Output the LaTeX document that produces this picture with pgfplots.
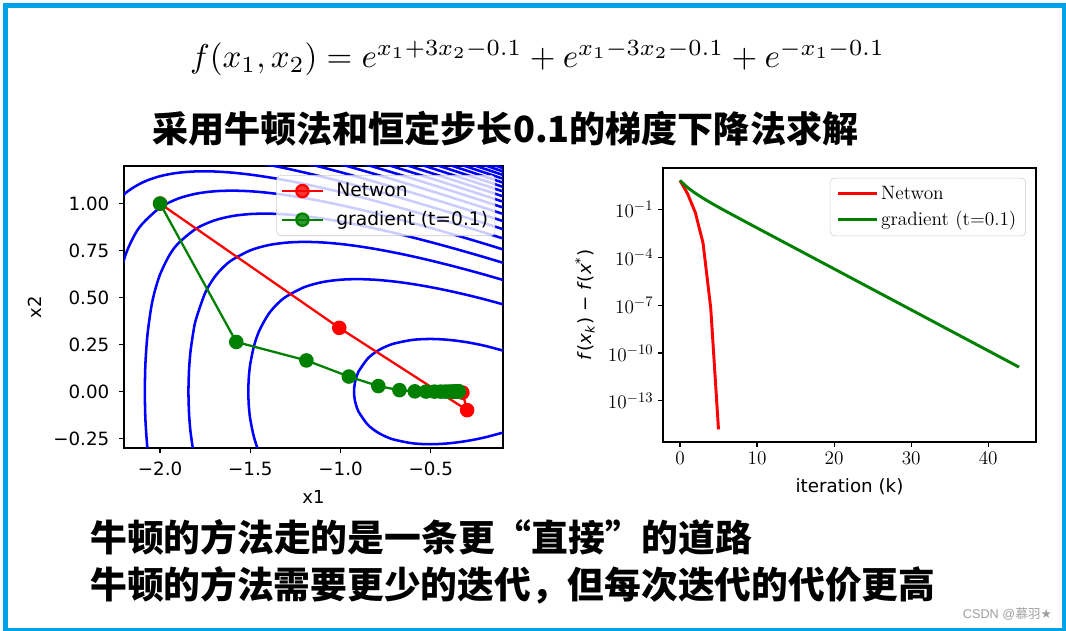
\documentclass[border=0pt]{standalone}
\usepackage{amsmath}
\usepackage{graphicx}
\usepackage{fontspec}
\usepackage{pgfplots}
\pgfplotsset{compat=1.18}
\newfontfamily\dejavu{DejaVu Sans}
\newfontfamily\cjk{Noto Sans CJK SC}
\newfontfamily\libsans{Liberation Sans}
\definecolor{frameblue}{RGB}{0,162,232}
\definecolor{mplgreen}{RGB}{0,128,0}
\definecolor{legframe}{RGB}{204,204,204}
\pgfplotsset{cont/.style={blue, line width=1.9pt, smooth, forget plot}}
\begin{document}
\begin{tikzpicture}
\fill[white] (0,0) rectangle (799.5pt,473.25pt);
\useasboundingbox (0,0) rectangle (799.5pt,473.25pt);

% ---------------- left: contour + paths ----------------
\begin{axis}[
  at={(93pt,137.25pt)}, anchor=south west, scale only axis,
  width=284.25pt, height=211.5pt,
  xmin=-2.2, xmax=-0.1, ymin=-0.3, ymax=1.2,
  xtick={-2,-1.5,-1,-0.5}, xticklabels={−2.0,−1.5,−1.0,−0.5},
  ytick={-0.25,0,0.25,0.5,0.75,1}, yticklabels={−0.25,0.00,0.25,0.50,0.75,1.00},
  tick align=outside, tick pos=left, major tick length=3.75pt,
  every tick/.style={black, line width=0.9pt},
  axis line style={line width=0.9pt},
  ticklabel style={font=\dejavu\fontsize{13.7pt}{16pt}\selectfont},
  xticklabel shift=3.2pt, yticklabel shift=3.75pt,
  xlabel={x1}, ylabel={x2},
  xlabel shift=4pt, ylabel shift=2pt,
  label style={font=\dejavu\fontsize{13.5pt}{16pt}\selectfont},
  legend cell align=left,
  legend style={at={(0.979,0.968)}, anchor=north east, fill=white, fill opacity=0.8,
    draw opacity=1, text opacity=1, draw=legframe, rounded corners=3pt,
    font=\dejavu\fontsize{14pt}{16.5pt}\selectfont, inner xsep=3pt, inner ysep=4pt, row sep=5.5pt},
  legend image code/.code={\draw[mark repeat=2,mark phase=2,#1] plot coordinates {(0pt,0pt) (15.4pt,0pt) (30.8pt,0pt)};\path (38pt,0pt);},
]
% level 3
\addplot[cont] coordinates {(-0.1,-0.2179) (-0.2,-0.2435) (-0.3,-0.2626) (-0.4,-0.2751) (-0.5,-0.2800) (-0.6,-0.2752) (-0.7,-0.2564) (-0.75,-0.2392) (-0.8,-0.2138) (-0.85,-0.1754) (-0.9,-0.1077) (-0.91,-0.0847) (-0.92,-0.0506) (-0.9235,-0.0295) (-0.9253,0) (-0.9235,0.0295) (-0.92,0.0506) (-0.91,0.0847) (-0.9,0.1077) (-0.85,0.1754) (-0.8,0.2138) (-0.75,0.2392) (-0.7,0.2564) (-0.6,0.2752) (-0.5,0.2800) (-0.4,0.2751) (-0.3,0.2626) (-0.2,0.2435) (-0.1,0.2179)};
% level 4.5
\addplot[cont] coordinates {(-1.4,-0.4110) (-1.45,-0.3249) (-1.48,-0.2417) (-1.5,-0.1490) (-1.505,-0.1115) (-1.509,-0.0664) (-1.5112,0) (-1.509,0.0664) (-1.505,0.1115) (-1.5,0.1490) (-1.48,0.2417) (-1.45,0.3249) (-1.4,0.4110) (-1.35,0.4669) (-1.3,0.5062) (-1.2,0.5559) (-1.1,0.5826) (-1.0,0.5951) (-0.9,0.5982) (-0.8,0.5943) (-0.7,0.5852) (-0.6,0.5720) (-0.5,0.5554) (-0.4,0.5360) (-0.3,0.5142) (-0.2,0.4903) (-0.1,0.4643)};
% level 6
\addplot[cont] coordinates {(-1.8,-0.3882) (-1.815,-0.3221) (-1.83,-0.2256) (-1.835,-0.1781) (-1.84,-0.1081) (-1.8429,0) (-1.84,0.1081) (-1.835,0.1781) (-1.83,0.2256) (-1.815,0.3221) (-1.8,0.3882) (-1.75,0.5254) (-1.7,0.6067) (-1.65,0.6616) (-1.6,0.7009) (-1.5,0.7514) (-1.4,0.7790) (-1.3,0.7924) (-1.2,0.7963) (-1.1,0.7933) (-1.0,0.7851) (-0.9,0.7729) (-0.8,0.7574) (-0.7,0.7393) (-0.6,0.7191) (-0.5,0.6969) (-0.4,0.6731) (-0.3,0.6480) (-0.2,0.6215) (-0.1,0.5938)};
% level 7.5
\addplot[cont] coordinates {(-2.05,-0.4434) (-2.07,-0.3026) (-2.08,-0.1732) (-2.083,-0.0982) (-2.0844,0) (-2.083,0.0982) (-2.08,0.1732) (-2.07,0.3026) (-2.05,0.4434) (-2.03,0.5321) (-2.0,0.6236) (-1.95,0.7227) (-1.9,0.7877) (-1.8,0.8669) (-1.7,0.9102) (-1.6,0.9337) (-1.5,0.9445) (-1.4,0.9466) (-1.3,0.9423) (-1.2,0.9332) (-1.1,0.9203) (-1.0,0.9044) (-0.9,0.8860) (-0.8,0.8656) (-0.7,0.8434) (-0.6,0.8198) (-0.5,0.7949) (-0.4,0.7689) (-0.3,0.7419) (-0.2,0.7140) (-0.1,0.6853)};
% level 9
\addplot[cont] coordinates {(-2.25,0.4711) (-2.2,0.7012) (-2.15,0.8171) (-2.1,0.8907) (-2.0,0.9787) (-1.9,1.0266) (-1.8,1.0528) (-1.7,1.0654) (-1.6,1.0688) (-1.5,1.0656) (-1.4,1.0572) (-1.3,1.0450) (-1.2,1.0297) (-1.1,1.0118) (-1.0,0.9918) (-0.9,0.9701) (-0.8,0.9468) (-0.7,0.9224) (-0.6,0.8968) (-0.5,0.8702) (-0.4,0.8428) (-0.3,0.8146) (-0.2,0.7858) (-0.1,0.7563)};
% level 10.5
\addplot[cont] coordinates {(-2.3,0.9283) (-2.2,1.0486) (-2.1,1.1112) (-2.0,1.1459) (-1.9,1.1640) (-1.8,1.1712) (-1.7,1.1708) (-1.6,1.1646) (-1.5,1.1541) (-1.4,1.1401) (-1.3,1.1234) (-1.2,1.1043) (-1.1,1.0834) (-1.0,1.0609) (-0.9,1.0371) (-0.8,1.0121) (-0.7,0.9860) (-0.6,0.9591) (-0.5,0.9315) (-0.4,0.9031) (-0.3,0.8742) (-0.2,0.8446) (-0.1,0.8146)};
% level 12
\addplot[cont] coordinates {(-1.9,1.2610) (-1.8,1.2584) (-1.7,1.2507) (-1.6,1.2389) (-1.5,1.2240) (-1.4,1.2064) (-1.3,1.1867) (-1.2,1.1653) (-1.1,1.1423) (-1.0,1.1181) (-0.9,1.0928) (-0.8,1.0665) (-0.7,1.0394) (-0.6,1.0116) (-0.5,0.9831) (-0.4,0.9541) (-0.3,0.9246) (-0.2,0.8946) (-0.1,0.8641)};
% level 13.5
\addplot[cont] coordinates {(-1.2,1.2168) (-1.1,1.1924) (-1.0,1.1669) (-0.9,1.1405) (-0.8,1.1133) (-0.7,1.0854) (-0.6,1.0569) (-0.5,1.0278) (-0.4,0.9983) (-0.3,0.9683) (-0.2,0.9379) (-0.1,0.9071)};
% level 15
\addplot[cont] coordinates {(-1.0,1.2094) (-0.9,1.1822) (-0.8,1.1543) (-0.7,1.1258) (-0.6,1.0967) (-0.5,1.0672) (-0.4,1.0373) (-0.3,1.0069) (-0.2,0.9762) (-0.1,0.9452)};
% level 16.5
\addplot[cont] coordinates {(-0.9,1.2193) (-0.8,1.1908) (-0.7,1.1618) (-0.6,1.1323) (-0.5,1.1024) (-0.4,1.0721) (-0.3,1.0415) (-0.2,1.0106) (-0.1,0.9793)};
% level 18
\addplot[cont] coordinates {(-0.8,1.2237) (-0.7,1.1943) (-0.6,1.1645) (-0.5,1.1343) (-0.4,1.1037) (-0.3,1.0728) (-0.2,1.0417) (-0.1,1.0103)};
% level 19.5
\addplot[cont] coordinates {(-0.7,1.2239) (-0.6,1.1938) (-0.5,1.1633) (-0.4,1.1325) (-0.3,1.1015) (-0.2,1.0702) (-0.1,1.0386)};
% level 21
\addplot[cont] coordinates {(-0.6,1.2207) (-0.5,1.1900) (-0.4,1.1590) (-0.3,1.1278) (-0.2,1.0964) (-0.1,1.0647)};
% level 22.5
\addplot[cont] coordinates {(-0.6,1.2456) (-0.5,1.2147) (-0.4,1.1836) (-0.3,1.1522) (-0.2,1.1207) (-0.1,1.0889)};
% level 24
\addplot[cont] coordinates {(-0.5,1.2378) (-0.4,1.2065) (-0.3,1.1750) (-0.2,1.1433) (-0.1,1.1114)};
% level 25.5
\addplot[cont] coordinates {(-0.5,1.2593) (-0.4,1.2279) (-0.3,1.1963) (-0.2,1.1645) (-0.1,1.1325)};
% level 27
\addplot[cont] coordinates {(-0.4,1.2480) (-0.3,1.2163) (-0.2,1.1844) (-0.1,1.1524)};
% level 28.5
\addplot[cont] coordinates {(-0.3,1.2352) (-0.2,1.2032) (-0.1,1.1711)};
% level 30
\addplot[cont] coordinates {(-0.2,1.2210) (-0.1,1.1888)};

% Newton path
\addplot[red, line width=1.7pt, mark=*, mark size=4.6pt, mark options={solid, fill=red}] coordinates {(-2,1) (-1.00725,0.33903) (-0.29878,-0.09873) (-0.32496,-0.0053) (-0.3464,0) (-0.3466,0)};
\addlegendentry{Netwon}
% gradient path
\addplot[mplgreen, line width=1.7pt, mark=*, mark size=4.6pt, mark options={solid, fill=mplgreen}] coordinates {(-2,1) (-1.578,0.264) (-1.1893,0.1657) (-0.9541,0.0801) (-0.7909,0.0294) (-0.6737,0.0077) (-0.5885,0.0013) (-0.5260,0.0001) (-0.4798,0) (-0.4456,0) (-0.4202,0) (-0.4013,0) (-0.3873,0) (-0.3769,0) (-0.3691,0) (-0.3633,0) (-0.3590,0) (-0.3558,0) (-0.3535,0) (-0.3517,0) (-0.3504,0) (-0.3494,0) (-0.3487,0) (-0.3481,0) (-0.3477,0) (-0.3474,0) (-0.3472,0) (-0.3470,0) (-0.3469,0) (-0.3468,0) (-0.3467,0) (-0.3466,0)};
\addlegendentry{gradient (t=0.1)}
\end{axis}

% ---------------- right: convergence ----------------
\begin{axis}[
  at={(497.25pt,141.75pt)}, anchor=south west, scale only axis,
  width=279.75pt, height=205.5pt,
  xmin=-2.2, xmax=46.2, ymode=log, ymin=2.6e-16, ymax=39.8,
  xtick={0,10,20,30,40}, ytick={1e-13,1e-10,1e-7,1e-4,1e-1},
  yminorticks=false,
  tick align=outside, tick pos=left, major tick length=3.75pt,
  every tick/.style={black, line width=0.9pt},
  axis line style={line width=0.9pt},
  ticklabel style={font=\fontsize{15pt}{18pt}\selectfont},
  xlabel={iteration (k)},
  ylabel={\textit{f}(\textit{x}$_{\text{\textit{k}}}$) − \textit{f}(\textit{x}$^{\text{*}}$)},
  xlabel shift=4pt, ylabel shift=3pt,
  label style={font=\dejavu\fontsize{13.7pt}{16pt}\selectfont},
  legend cell align=left,
  legend style={at={(0.973,0.964)}, anchor=north east, fill=white, fill opacity=0.8,
    draw opacity=1, text opacity=1, draw=legframe, rounded corners=3pt,
    font=\fontsize{14.5pt}{17pt}\selectfont, inner xsep=5pt, inner ysep=4pt, row sep=3.5pt},
  legend image code/.code={\draw[#1] (0pt,0pt) -- (29pt,0pt);},
]
\addplot[red, line width=2.2pt] coordinates {(0,6.5923) (1,0.9515) (2,0.06225) (3,7.6e-4) (4,6e-8) (5,1.6e-15)};
\addlegendentry{Netwon}
\addplot[mplgreen, line width=2.2pt] coordinates {(0,6.5923) (1,2.3218) (2,1.0334) (3,0.5073) (4,0.2600) (5,0.1385) (6,0.0753) (7,0.04135) (8,0.02274) (9,0.01255) (10,6.93e-3) (11,3.836e-3) (12,2.124e-3) (13,1.176e-3) (14,6.51e-4) (15,3.604e-4) (16,1.995e-4) (17,1.105e-4) (18,6.117e-5) (19,3.387e-5) (20,1.875e-5) (21,1.038e-5) (22,5.747e-6) (23,3.182e-6) (24,1.762e-6) (25,9.75e-7) (26,5.40e-7) (27,2.99e-7) (28,1.655e-7) (29,9.17e-8) (30,5.07e-8) (31,2.81e-8) (32,1.555e-8) (33,8.61e-9) (34,4.77e-9) (35,2.64e-9) (36,1.462e-9) (37,8.09e-10) (38,4.48e-10) (39,2.48e-10) (40,1.373e-10) (41,7.60e-11) (42,4.21e-11) (43,2.33e-11) (44,1.29e-11)};
\addlegendentry{gradient (t=0.1)}
\end{axis}

% ---------------- texts ----------------
\node[inner sep=0, anchor=center] at (403.1pt,429.5pt) {\resizebox{521pt}{!}{$f(x_1,x_2) = e^{x_1+3x_2-0.1} + e^{x_1-3x_2-0.1} + e^{-x_1-0.1}$}};
\node[inner sep=0, anchor=west] at (114pt,376.5pt) {\resizebox{529.5pt}{!}{\cjk\bfseries 采用牛顿法和恒定步长0.1的梯度下降法求解}};
\node[inner sep=0, anchor=west] at (67.5pt,70.5pt) {\resizebox{496.5pt}{!}{\cjk\bfseries 牛顿的方法走的是一条更“直接”的道路}};
\node[inner sep=0, anchor=west] at (67.5pt,34.5pt) {\resizebox{633.75pt}{!}{\cjk\bfseries 牛顿的方法需要更少的迭代，但每次迭代的代价更高}};
\node[inner sep=0, anchor=center] at (755.6pt,12.4pt) {\resizebox{66.75pt}{!}{\color{gray!75}\libsans CSDN @{\cjk 慕羽}{\dejavu ★}}};

% frame
\draw[frameblue, line width=3.75pt] (4.125pt,0.375pt) rectangle (798.375pt,469.125pt);
\end{tikzpicture}
\end{document}
